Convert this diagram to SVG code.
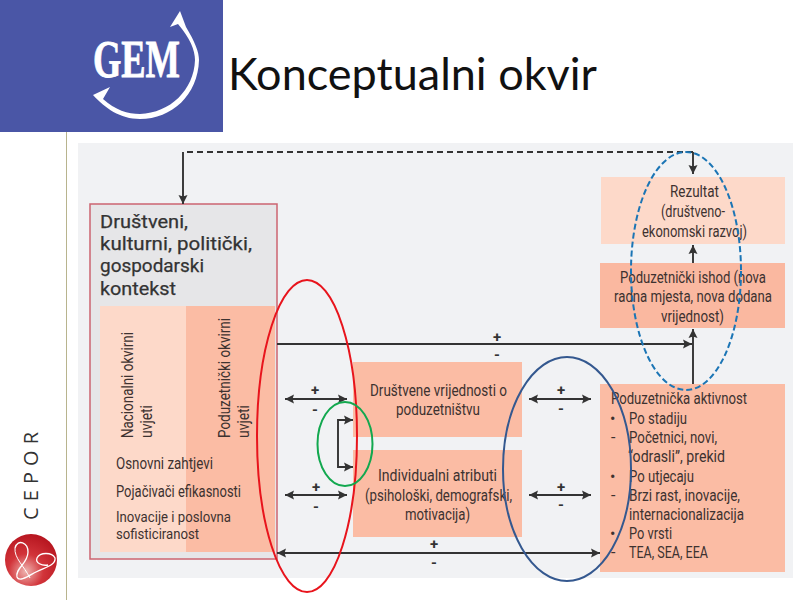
<svg xmlns="http://www.w3.org/2000/svg" width="800" height="600" viewBox="0 0 800 600">
<style>
text{font-family:Roboto,"Noto Sans",sans-serif;fill:#3d3230;font-size:16px}
.h{font-size:18.500px;fill:#333;stroke:#333;stroke-width:.25}
.s{font-size:14.500px}
.m{text-anchor:middle;font-weight:700;font-size:15px;fill:#333}
.l{fill:none;stroke:#333;stroke-width:1.9}
.a{marker-end:url(#ah)}
.b{marker-start:url(#as);marker-end:url(#ah)}
</style>
<defs>
<marker id="ah" markerUnits="userSpaceOnUse" markerWidth="11" markerHeight="12" refX="9" refY="6" orient="auto"><path d="M0 1.500L9 6L0 10.500L1.500 6Z" fill="#333"/></marker>
<marker id="as" markerUnits="userSpaceOnUse" markerWidth="11" markerHeight="12" refX="0" refY="6" orient="auto"><path d="M9 1.500L0 6L9 10.500L7.500 6Z" fill="#333"/></marker>
<radialGradient id="rg" cx="0.4" cy="0.72" r="0.75"><stop offset="0" stop-color="#efb4b0"/><stop offset="0.45" stop-color="#d2343a"/><stop offset="1" stop-color="#b5141e"/></radialGradient>
</defs>
<rect width="800" height="600" fill="#fff"/>
<line x1="66.500" y1="132" x2="66.500" y2="600" stroke="#b8b48e" stroke-width="1"/>
<rect x="78" y="143" width="715" height="435" fill="#f1f2f4"/>

<g id="header">
<rect width="223" height="132" fill="#4a56a6"/>
<text x="93" y="77" textLength="87" lengthAdjust="spacingAndGlyphs" style="font-family:'Liberation Serif',serif;font-weight:700;font-size:53px;fill:#fff;stroke:#fff;stroke-width:.8">GEM</text>
<path d="M180 11L186 27C195 42 199 52 199 60C198 95 172 119 140 119C120 119 105 108 93 95L110 87L103 99C115 110 128 114 140 114C170 113 194 90 195 60C195 50 190 38 178 24L170 27Z" fill="#fff"/>
<text x="228" y="90" textLength="369" lengthAdjust="spacingAndGlyphs" style="font-family:Lato,sans-serif;font-size:45px;fill:#111">Konceptualni okvir</text>
</g>

<g id="cepor">
<text transform="translate(38 520) rotate(-90)" textLength="88" style="font-family:'Open Sans',sans-serif;font-size:20px;fill:#333">CEPOR</text>
<circle cx="31" cy="560" r="26" fill="url(#rg)"/>
<path d="M15 548C18 538 28 543 28 552C28 564 15 568 17 577C19 583 30 575 36 572C46 567 56 565 55 558C52 552 40 552 37 558C35 563 42 566 48 565" fill="none" stroke="#fff" stroke-width="1.300"/>
<path d="M15 548C14 558 24 566 30 578" fill="none" stroke="#fff" stroke-width="1"/>
</g>

<g id="kontekst">
<rect x="90" y="204" width="187" height="355" fill="#e6e6e8" stroke="#cc6470" stroke-width="1.500"/>
<rect x="100" y="306" width="86" height="246" fill="#fdd9c9"/>
<rect x="186" y="306" width="89" height="246" fill="#fbbca4"/>
<text class="h" x="100" y="228" textLength="88" lengthAdjust="spacingAndGlyphs">Društveni,</text>
<text class="h" x="100" y="250" textLength="152" lengthAdjust="spacingAndGlyphs">kulturni, politički,</text>
<text class="h" x="100" y="272" textLength="104" lengthAdjust="spacingAndGlyphs">gospodarski</text>
<text class="h" x="100" y="295" textLength="76" lengthAdjust="spacingAndGlyphs">kontekst</text>
<text transform="translate(133 438) rotate(-90)" textLength="106" lengthAdjust="spacingAndGlyphs">Nacionalni okvirni</text>
<text transform="translate(152 438) rotate(-90)" textLength="33" lengthAdjust="spacingAndGlyphs">uvjeti</text>
<text transform="translate(230 438) rotate(-90)" textLength="120" lengthAdjust="spacingAndGlyphs">Poduzetnički okvirni</text>
<text transform="translate(249 438) rotate(-90)" textLength="33" lengthAdjust="spacingAndGlyphs">uvjeti</text>
<text x="116" y="469" textLength="97" lengthAdjust="spacingAndGlyphs">Osnovni zahtjevi</text>
<text x="116" y="497" textLength="125" lengthAdjust="spacingAndGlyphs">Pojačivači efikasnosti</text>
<text class="s" x="116" y="522" textLength="115" lengthAdjust="spacingAndGlyphs">Inovacije i poslovna</text>
<text class="s" x="116" y="539" textLength="83" lengthAdjust="spacingAndGlyphs">sofisticiranost</text>
</g>

<g id="drustvene">
<rect x="353" y="362" width="169" height="75" fill="#fbbca4"/>
<text x="370" y="396" textLength="137" lengthAdjust="spacingAndGlyphs">Društvene vrijednosti o</text>
<text x="396" y="415" textLength="84" lengthAdjust="spacingAndGlyphs">poduzetništvu</text>
</g>
<g id="individualni">
<rect x="353" y="450" width="169" height="87" fill="#fbbca4"/>
<text x="378" y="481" textLength="119" lengthAdjust="spacingAndGlyphs">Individualni atributi</text>
<text x="365" y="501" textLength="147" lengthAdjust="spacingAndGlyphs">(psihološki, demografski,</text>
<text x="405" y="520" textLength="65" lengthAdjust="spacingAndGlyphs">motivacija)</text>
</g>
<g id="rezultat">
<rect x="601" y="177" width="184" height="67" fill="#fdd9c9"/>
<text x="670" y="197" textLength="49" lengthAdjust="spacingAndGlyphs">Rezultat</text>
<text x="661" y="217" textLength="64" lengthAdjust="spacingAndGlyphs">(društveno-</text>
<text x="642" y="237" textLength="105" lengthAdjust="spacingAndGlyphs">ekonomski razvoj)</text>
</g>
<g id="ishod">
<rect x="600" y="263" width="185" height="65" fill="#fab8a0"/>
<text x="620" y="283" textLength="146" lengthAdjust="spacingAndGlyphs">Poduzetnički ishod (nova</text>
<text x="614" y="302" textLength="158" lengthAdjust="spacingAndGlyphs">radna mjesta, nova dodana</text>
<text x="661" y="322" textLength="63" lengthAdjust="spacingAndGlyphs">vrijednost)</text>
</g>
<g id="aktivnost">
<rect x="600" y="384" width="185" height="188" fill="#fbbca4"/>
<text x="611" y="404" textLength="136" lengthAdjust="spacingAndGlyphs">Poduzetnička aktivnost</text>
<text x="610" y="424">•</text><text x="629" y="424" textLength="58" lengthAdjust="spacingAndGlyphs">Po stadiju</text>
<text x="611" y="443">-</text><text x="629" y="443" textLength="88" lengthAdjust="spacingAndGlyphs">Početnici, novi,</text>
<text x="628" y="462" textLength="97" lengthAdjust="spacingAndGlyphs">“odrasli”, prekid</text>
<text x="610" y="482">•</text><text x="629" y="482" textLength="65" lengthAdjust="spacingAndGlyphs">Po utjecaju</text>
<text x="611" y="501">-</text><text x="629" y="501" textLength="111" lengthAdjust="spacingAndGlyphs">Brzi rast, inovacije,</text>
<text x="629" y="520" textLength="115" lengthAdjust="spacingAndGlyphs">internacionalizacija</text>
<text x="610" y="539">•</text><text x="629" y="539" textLength="43" lengthAdjust="spacingAndGlyphs">Po vrsti</text>
<text x="611" y="558">-</text><text x="629" y="558" textLength="79" lengthAdjust="spacingAndGlyphs">TEA, SEA, EEA</text>
</g>

<g id="connectors">
<path class="l" d="M693 152H183" stroke-dasharray="6 4"/>
<path class="l a" d="M183 152V204"/>
<path class="l a" d="M693 152V174"/>
<path class="l a" d="M693 263V245"/>
<path class="l a" d="M693 384V329"/>
<path class="l a" d="M277 344H692"/>
<path class="l b" d="M285 399H347"/>
<path class="l b" d="M285 495H347"/>
<path class="l a" d="M353 420H338V467H353"/>
<path class="l a" d="M338 420H353"/>
<path class="l b" d="M277 553H600"/>
<path class="l b" d="M529 399H591"/>
<path class="l b" d="M529 495H591"/>
<text class="m" x="497" y="342">+</text><text class="m" x="497" y="360">-</text>
<text class="m" x="315" y="395">+</text><text class="m" x="315" y="415">-</text>
<text class="m" x="316" y="492">+</text><text class="m" x="316" y="512">-</text>
<text class="m" x="434" y="549">+</text><text class="m" x="434" y="568">-</text>
<text class="m" x="561" y="395">+</text><text class="m" x="561" y="414">-</text>
<text class="m" x="561" y="492">+</text><text class="m" x="561" y="510">-</text>
</g>

<g id="highlights" fill="none">
<ellipse cx="307" cy="436" rx="50" ry="156" stroke="#e8141c" stroke-width="2"/>
<ellipse cx="345" cy="444" rx="27.500" ry="42" stroke="#12a84f" stroke-width="2"/>
<ellipse cx="567" cy="469" rx="64" ry="112" stroke="#34588f" stroke-width="2"/>
<ellipse cx="686" cy="271" rx="55" ry="119" stroke="#1b75b5" stroke-width="2" stroke-dasharray="6 3"/>
</g>
</svg>
